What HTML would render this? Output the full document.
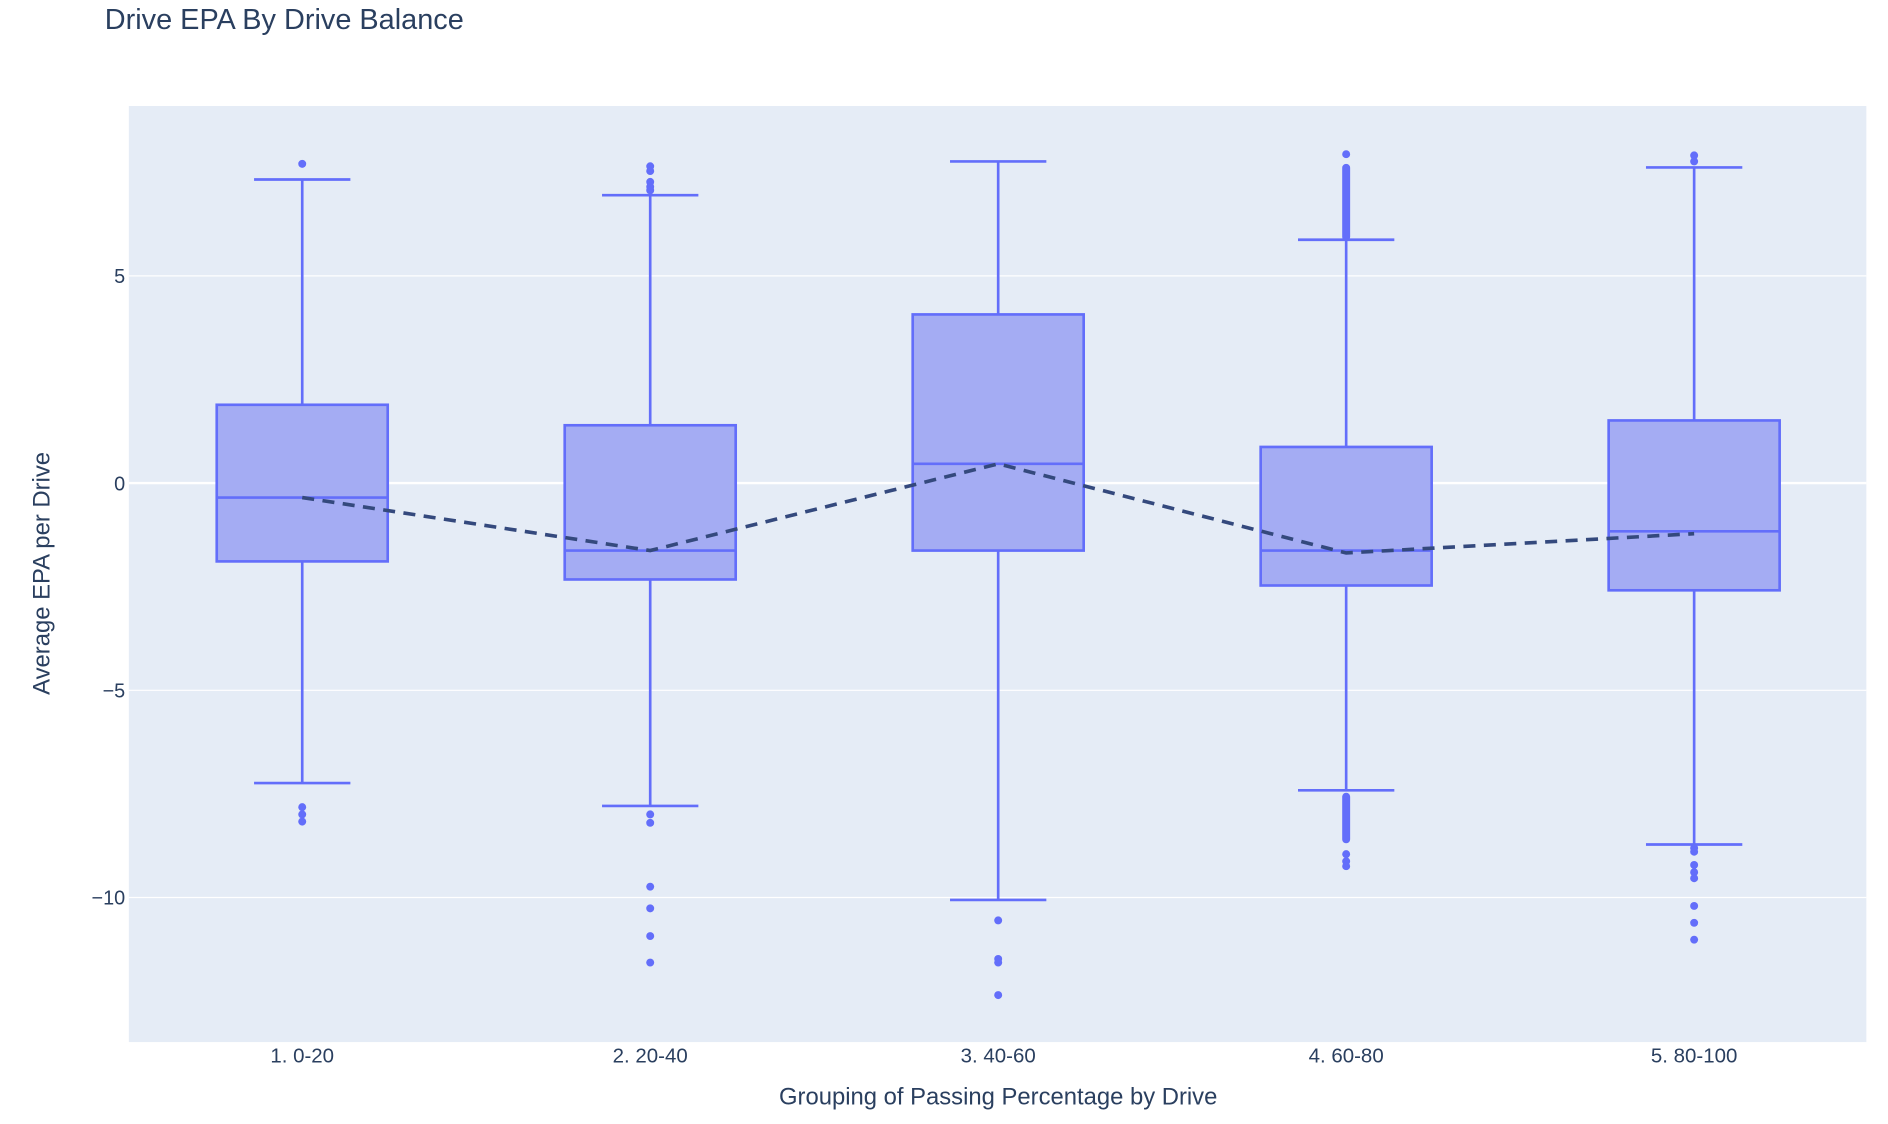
<!DOCTYPE html>
<html><head><meta charset="utf-8"><style>
html,body{margin:0;padding:0;background:#fff;}
svg{display:block;}
text{font-family:"Liberation Sans","DejaVu Sans",sans-serif;fill:#2a3f5f;}
</style></head><body>
<svg width="1888" height="1124" viewBox="0 0 1568 933" preserveAspectRatio="none" xmlns="http://www.w3.org/2000/svg">
<rect width="1568" height="933" fill="#fff"/>
<text x="87" y="24" font-size="24">Drive EPA By Drive Balance</text>
<rect x="107" y="88" width="1443" height="777" fill="#e5ecf6"/>
<g stroke="#fff" stroke-width="1">
<line x1="107" y1="229" x2="1550" y2="229"/>
<line x1="107" y1="573" x2="1550" y2="573"/>
<line x1="107" y1="745" x2="1550" y2="745"/>
</g>
<line x1="107" y1="401" x2="1550" y2="401" stroke="#fff" stroke-width="2"/>
<g font-size="16.5" text-anchor="end">
<text x="104" y="235">5</text>
<text x="104" y="407">0</text>
<text x="104" y="579">−5</text>
<text x="104" y="751">−10</text>
</g>
<g font-size="17" text-anchor="middle">
<text x="251" y="882">1. 0-20</text>
<text x="540" y="882">2. 20-40</text>
<text x="829" y="882">3. 40-60</text>
<text x="1118" y="882">4. 60-80</text>
<text x="1407" y="882">5. 80-100</text>
</g>
<text x="829" y="917" font-size="19.8" text-anchor="middle">Grouping of Passing Percentage by Drive</text>
<text transform="translate(41,476) rotate(-90)" font-size="19.8" text-anchor="middle">Average EPA per Drive</text>

<g stroke="#636efa" stroke-width="2.2" fill="#a4acf3">
<line x1="251" y1="149" x2="251" y2="650"/><line x1="211" y1="149" x2="291" y2="149"/><line x1="211" y1="650" x2="291" y2="650"/>
<rect x="180" y="336" width="142" height="130"/><line x1="180" y1="413" x2="322" y2="413"/>
<line x1="540" y1="162" x2="540" y2="669"/><line x1="500" y1="162" x2="580" y2="162"/><line x1="500" y1="669" x2="580" y2="669"/>
<rect x="469" y="353" width="142" height="128"/><line x1="469" y1="457" x2="611" y2="457"/>
<line x1="829" y1="134" x2="829" y2="747"/><line x1="789" y1="134" x2="869" y2="134"/><line x1="789" y1="747" x2="869" y2="747"/>
<rect x="758" y="261" width="142" height="196"/><line x1="758" y1="385" x2="900" y2="385"/>
<line x1="1118" y1="199" x2="1118" y2="656"/><line x1="1078" y1="199" x2="1158" y2="199"/><line x1="1078" y1="656" x2="1158" y2="656"/>
<rect x="1047" y="371" width="142" height="115"/><line x1="1047" y1="457" x2="1189" y2="457"/>
<line x1="1407" y1="139" x2="1407" y2="701"/><line x1="1367" y1="139" x2="1447" y2="139"/><line x1="1367" y1="701" x2="1447" y2="701"/>
<rect x="1336" y="349" width="142" height="141"/><line x1="1336" y1="441" x2="1478" y2="441"/>
</g>
<g fill="#636efa">
<circle cx="251" cy="136" r="3.3"/><circle cx="251" cy="670" r="3.3"/><circle cx="251" cy="676" r="3.3"/><circle cx="251" cy="682" r="3.3"/>
<circle cx="540" cy="138" r="3.3"/><circle cx="540" cy="142" r="3.3"/><circle cx="540" cy="151" r="3.3"/><circle cx="540" cy="155" r="3.3"/><circle cx="540" cy="158" r="3.3"/>
<circle cx="540" cy="676" r="3.3"/><circle cx="540" cy="683" r="3.3"/><circle cx="540" cy="736" r="3.3"/><circle cx="540" cy="754" r="3.3"/><circle cx="540" cy="777" r="3.3"/><circle cx="540" cy="799" r="3.3"/>
<circle cx="829" cy="764" r="3.3"/><circle cx="829" cy="796" r="3.3"/><circle cx="829" cy="799" r="3.3"/><circle cx="829" cy="826" r="3.3"/>
<circle cx="1118" cy="128" r="3.3"/>
<rect x="1114.7" y="136" width="6.6" height="64" rx="3.3"/>
<rect x="1114.7" y="658" width="6.6" height="42" rx="3.3"/>
<circle cx="1118" cy="709" r="3.3"/><circle cx="1118" cy="715" r="3.3"/><circle cx="1118" cy="719" r="3.3"/>
<circle cx="1407" cy="129" r="3.3"/><circle cx="1407" cy="134" r="3.3"/>
<circle cx="1407" cy="704" r="3.3"/><circle cx="1407" cy="707" r="3.3"/><circle cx="1407" cy="718" r="3.3"/><circle cx="1407" cy="724" r="3.3"/><circle cx="1407" cy="729" r="3.3"/><circle cx="1407" cy="752" r="3.3"/><circle cx="1407" cy="766" r="3.3"/><circle cx="1407" cy="780" r="3.3"/>
</g>
<polyline points="251,413 540,457 829,385 1118,459 1407,443" fill="none" stroke="#34497d" stroke-width="3" stroke-dasharray="10,7"/>
</svg>
</body></html>
